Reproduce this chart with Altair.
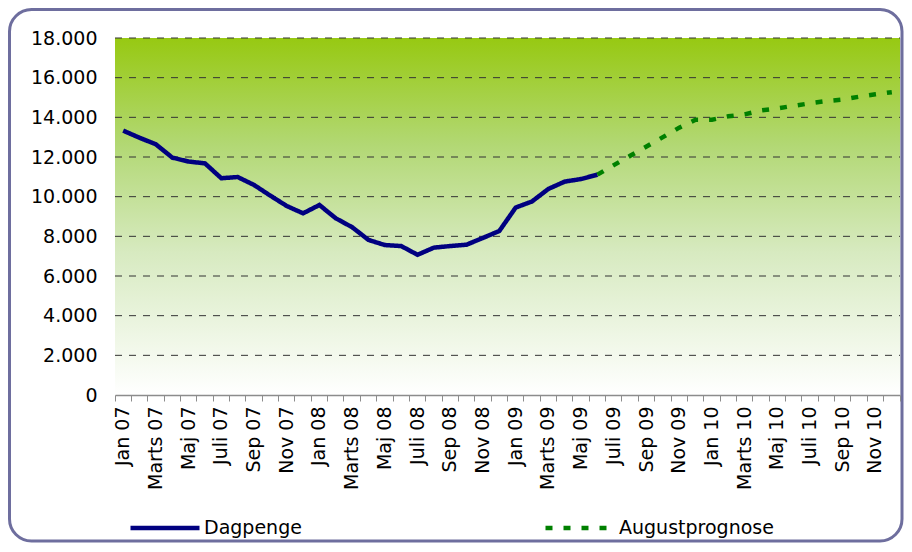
import altair as alt
import pandas as pd

# ---- data -------------------------------------------------------------
month_names = ["Jan", "Feb", "Marts", "April", "Maj", "Juni",
               "Juli", "Aug", "Sep", "Okt", "Nov", "Dec"]
years = ["07", "08", "09", "10"]
months = [f"{m} {y}" for y in years for m in month_names]
shown_months = ["Jan", "Marts", "Maj", "Juli", "Sep", "Nov"]

# Dagpenge, Jan 07 .. Juni 09
dagpenge = [13330, 12970, 12640, 11970, 11770, 11680, 10930, 10990, 10590, 10050,
            9530, 9160, 9580, 8910, 8460, 7820, 7560, 7510, 7070, 7430,
            7510, 7580, 7920, 8270, 9450, 9760, 10390, 10760, 10890, 11110]
# Augustprognose, Juni 09 .. Dec 10
prognose = [11110, 11590, 12060, 12530, 13000, 13480, 13880, 13880, 14050, 14150,
            14350, 14450, 14580, 14710, 14820, 14900, 15040, 15160, 15270]
y_ticks = [0, 2000, 4000, 6000, 8000, 10000, 12000, 14000, 16000, 18000]
series = ["Dagpenge", "Augustprognose"]
series_colors = ["#000080", "#008000"]

# ---- tables -------------------------------------------------------------
rows = [{"month": months[i], "value": v, "serie": series[0]} for i, v in enumerate(dagpenge)]
start = len(dagpenge) - 1
rows += [{"month": months[start + i], "value": v, "serie": series[1]} for i, v in enumerate(prognose)]
df = pd.DataFrame(rows)
grid_df = pd.DataFrame({"value": y_ticks[1:]})
one = pd.DataFrame({"a": [0]})

W, H = 785, 357
FONT = "DejaVu Sans"
shown_js = "[" + ",".join(f"'{m}'" for m in shown_months) + "]"

x_enc = alt.X(
    "month:N", sort=months,
    scale=alt.Scale(type="band", domain=months, paddingInner=0, paddingOuter=0),
    axis=alt.Axis(
        title=None, bandPosition=1, tickExtra=True, grid=False,
        labelAngle=270, labelAlign="right", labelBaseline="middle",
        labelPadding=5, labelFontSize=19, labelColor="black", labelFont=FONT,
        labelExpr=f"indexof({shown_js}, split(datum.label, ' ')[0]) >= 0 ? datum.label : ''",
        domainColor="#8c8c8c", domainWidth=1.5, tickColor="#8c8c8c", tickSize=6,
        zindex=1,
    ),
)
y_enc = alt.Y(
    "value:Q",
    scale=alt.Scale(domain=[0, 18000], nice=False, zero=True),
    axis=alt.Axis(
        title=None, values=y_ticks, domain=False, ticks=False, grid=False,
        labelFontSize=19, labelPadding=18, labelColor="black", labelFont=FONT,
        labelExpr="replace(format(datum.value, ','), ',', '.')",
    ),
)

bg = alt.Chart(one).mark_rect(
    color=alt.LinearGradient(
        gradient="linear", x1=0, x2=0, y1=0, y2=1,
        stops=[
            alt.GradientStop(color="#97C912", offset=0),
            alt.GradientStop(color="#B2D874", offset=0.3),
            alt.GradientStop(color="#D7EAC0", offset=0.6),
            alt.GradientStop(color="#FFFFFF", offset=1),
        ],
    )
).encode(x=alt.value(0), x2=alt.value(W), y=alt.value(0), y2=alt.value(H))

border = alt.Chart(one).mark_rect(
    fill="transparent", stroke="#6E6E9E", strokeWidth=3, cornerRadius=22
).encode(x=alt.value(-105.5), x2=alt.value(787), y=alt.value(-28.5), y2=alt.value(503))

grid = alt.Chart(grid_df).mark_rule(
    color="#333333", strokeWidth=1, strokeDash=[7, 7]
).encode(y=y_enc, x=alt.value(0), x2=alt.value(W))

leg = alt.Legend(
    title=None, orient="none", legendX=13, legendY=453, direction="horizontal",
    symbolType="stroke", symbolSize=4761, symbolStrokeWidth=4.5,
    labelFontSize=19, labelFont=FONT, labelColor="black", labelOffset=2,
    columnPadding=234, padding=0,
)

lines = alt.Chart(df).mark_line(strokeWidth=4.5).encode(
    x=x_enc,
    y=y_enc,
    color=alt.Color("serie:N", scale=alt.Scale(domain=series, range=series_colors), legend=leg),
    strokeDash=alt.StrokeDash("serie:N", scale=alt.Scale(domain=series, range=[[1, 0], [7, 11]]), legend=leg),
)

chart = alt.layer(bg, border, grid, lines).properties(
    width=W, height=H,
    padding={"left": 107, "top": 30, "right": 4, "bottom": 148},
    autosize=alt.AutoSizeParams(type="none"),
).configure_view(stroke="transparent").configure(font=FONT)

chart.save("out.html", embed_options={"renderer": "svg", "actions": False})
